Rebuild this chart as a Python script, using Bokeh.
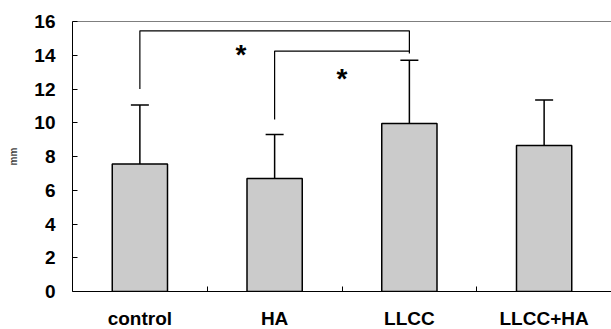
from bokeh.plotting import figure
from bokeh.models import Range1d, FixedTicker, Span, Whisker, TeeHead, ColumnDataSource
from bokeh.core.properties import value
from bokeh.embed import file_html
from bokeh.resources import INLINE

# ---- data ----
categories = ["control", "HA", "LLCC", "LLCC+HA"]
means = [7.55, 6.7, 9.95, 8.65]
sd = [3.5, 2.6, 3.75, 2.7]
y_ticks = [0, 2, 4, 6, 8, 10, 12, 14, 16]

# significance brackets (x in category units, y in mm)
bracket1_x = [0.5, 0.5, 2.5, 2.5]
bracket1_y = [12.0, 15.45, 15.45, 14.1]
bracket2_x = [1.5, 1.5, 2.5]
bracket2_y = [10.2, 14.25, 14.25]
star_x = [1.25, 2.0]
star_y = [14.4, 13.0]
star_text = ["*", "*"]

FONT = "Liberation Sans"

x_pos = [i + 0.5 for i in range(len(categories))]
upper = [m + s for m, s in zip(means, sd)]
src = ColumnDataSource(dict(x=x_pos, top=means, upper=upper))

p = figure(frame_width=539, frame_height=270, x_range=Range1d(0, 4.0), y_range=Range1d(0, 16),
           output_backend="svg", toolbar_location=None,
           min_border_left=72, min_border_right=0, min_border_top=21, min_border_bottom=38)
p.outline_line_color = None
p.xgrid.grid_line_color = None
p.ygrid.grid_line_color = None
p.background_fill_color = "white"
p.border_fill_color = "white"

p.vbar(x="x", top="top", width=0.41, source=src, fill_color="#cbcbcb",
       line_color="black", line_width=1.5)

w = Whisker(base="x", lower="top", upper="upper", source=src, lower_head=None,
            upper_head=TeeHead(size=18, line_color="black", line_width=1.5),
            line_color="black", line_width=1.5)
p.add_layout(w)

p.line(bracket1_x, bracket1_y, line_color="black", line_width=1.2)
p.line(bracket2_x, bracket2_y, line_color="black", line_width=1.2)
p.text(x=star_x, y=star_y, text=star_text, text_font=value(FONT), text_font_size="28px",
       text_font_style="bold", text_align="center", text_baseline="middle",
       y_offset=6, text_color="black")

p.add_layout(Span(location=16, dimension="width", line_color="black", line_width=1.2))

# y axis
ya = p.yaxis[0]
ya.ticker = FixedTicker(ticks=y_ticks)
ya.major_tick_in = 5
ya.major_tick_out = 0
ya.minor_tick_in = 0
ya.minor_tick_out = 0
ya.major_label_text_font = FONT
ya.major_label_text_font_size = "19px"
ya.major_label_text_font_style = "bold"
ya.major_label_text_color = "black"
ya.major_label_standoff = 17
ya.axis_label = "mm"
ya.axis_label_text_font = FONT
ya.axis_label_text_font_size = "10px"
ya.axis_label_text_font_style = "bold"
ya.axis_label_standoff = 12
ya.axis_line_color = "black"
ya.major_tick_line_color = "black"

# x axis
xa = p.xaxis[0]
xa.ticker = FixedTicker(ticks=x_pos, minor_ticks=[1, 2, 3])
xa.major_label_overrides = {x: c for x, c in zip(x_pos, categories)}
xa.major_tick_in = 0
xa.major_tick_out = 0
xa.minor_tick_in = 5
xa.minor_tick_out = 0
xa.major_label_text_font = FONT
xa.major_label_text_font_size = "19px"
xa.major_label_text_font_style = "bold"
xa.major_label_text_color = "black"
xa.major_label_standoff = 16
xa.axis_line_color = "black"
xa.minor_tick_line_color = "black"

open("out.html", "w").write(file_html(p, INLINE))
